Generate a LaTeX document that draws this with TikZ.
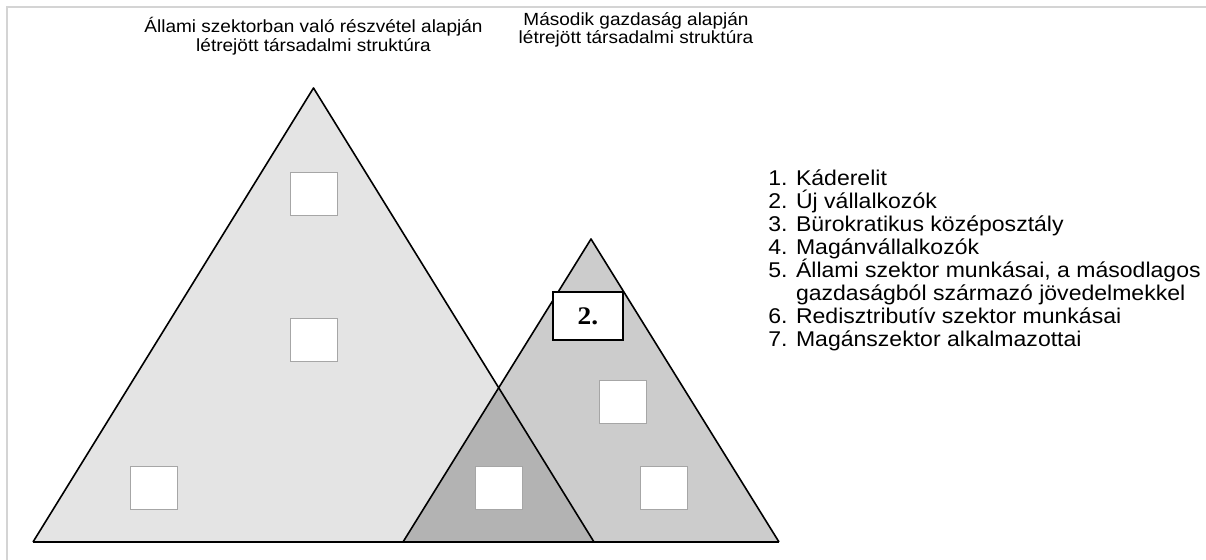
\documentclass[tikz,border=0pt]{standalone}
\usepackage{fontspec}
\setmainfont[FakeStretch=1.08]{Liberation Sans}
\newfontfamily\numfont[FakeStretch=1.08]{Liberation Serif}
\definecolor{lightgr}{HTML}{E4E4E4}
\definecolor{midgr}{HTML}{CCCCCC}
\definecolor{darkgr}{HTML}{B3B3B3}
\definecolor{framegr}{HTML}{D4D4D4}
\begin{document}
\begin{tikzpicture}[x=0.75pt,y=-0.75pt,
  box/.style={draw=gray!70,fill=white,line width=0.6pt,minimum width=35.25pt,minimum height=32.25pt,inner sep=0pt},
  numbox/.style={draw=black,fill=white,line width=1.1pt,minimum width=52.5pt,minimum height=36pt,inner sep=0pt,font=\numfont\bfseries\fontsize{19}{22}\selectfont},
  title/.style={align=center,inner sep=0pt,font=\fontsize{13.2}{14}\selectfont},
  tri/.style={draw=black,line width=1.2pt,line join=round}]
\useasboundingbox (0,0) rectangle (1206,560);
\draw[framegr,line width=0.8pt] (7,560) -- (7,7) -- (1206,7);
\coordinate (A1) at (33,542); \coordinate (A2) at (594,542); \coordinate (A3) at (313.5,88);
\coordinate (B1) at (403,542); \coordinate (B2) at (779,542); \coordinate (B3) at (591,239);
\fill[lightgr] (A1) -- (A2) -- (A3) -- cycle;
\fill[midgr] (B1) -- (B2) -- (B3) -- cycle;
\begin{scope}
\clip (A1) -- (A2) -- (A3) -- cycle;
\fill[darkgr] (B1) -- (B2) -- (B3) -- cycle;
\end{scope}
\draw[tri] (A1) -- (A3) -- (A2);
\draw[tri] (B1) -- (B3) -- (B2);
\draw[line width=1.6pt] (A1) -- (B2);
\foreach \n/\x/\y in {a/313.5/193.5,b/313.5/339.5,c/154/488,d/499/488,e/622.5/402,f/664/488}
  \node[box] (box\n) at (\x,\y) {};
\node[numbox] (new) at (588,316) {2.};
\node[title] (titleA) at (313.5,36) {Állami szektorban való részvétel alapján\\létrejött társadalmi struktúra};
\node[title] (titleB) at (636,30) {Második gazdaság alapján\\létrejött társadalmi struktúra};
\node[anchor=north west,inner sep=0pt,align=left,font=\fontsize{16}{17.25}\selectfont] (legend) at (768,169.5)
  {1. Káderelit\\
   2. Új vállalkozók\\
   3. Bürokratikus középosztály\\
   4. Magánvállalkozók\\
   5. Állami szektor munkásai, a másodlagos\\
   \phantom{5. }gazdaságból származó jövedelmekkel\\
   6. Redisztributív szektor munkásai\\
   7. Magánszektor alkalmazottai};
\end{tikzpicture}
\end{document}
